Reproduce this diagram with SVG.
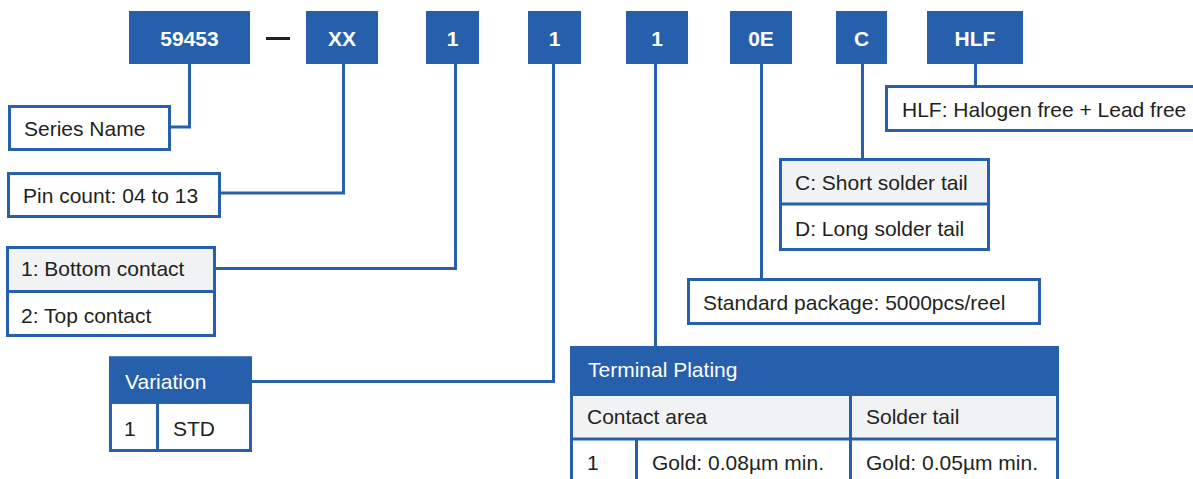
<svg xmlns="http://www.w3.org/2000/svg" width="1193" height="479" viewBox="0 0 1193 479">
<style>
.code{fill:#265FAC}
.codet{font-family:"Liberation Sans",Arial,sans-serif;font-weight:bold;font-size:21px;fill:#ffffff;text-anchor:middle}
.box{fill:#ffffff;stroke:#265FAC;stroke-width:3}
.grey{fill:#F1F2F4}
.blue{fill:#265FAC}
.ln{stroke:#265FAC;stroke-width:3;fill:none}
.t{font-family:"Liberation Sans",Arial,sans-serif;font-size:21px;fill:#231F20}
.tw{font-family:"Liberation Sans",Arial,sans-serif;font-size:21px;fill:#ffffff}
</style>
<rect width="1193" height="479" fill="#ffffff"/>

<g id="connectors">
<polyline class="ln" points="189.5,64 189.5,127 171,127"/>
<polyline class="ln" points="343.5,64 343.5,193 221,193"/>
<polyline class="ln" points="455.5,64 455.5,268.5 216,268.5"/>
<polyline class="ln" points="553.5,64 553.5,381.5 252,381.5"/>
<line class="ln" x1="655.5" y1="64" x2="655.5" y2="346"/>
<line class="ln" x1="761.5" y1="64" x2="761.5" y2="278"/>
<line class="ln" x1="862.5" y1="64" x2="862.5" y2="158"/>
<line class="ln" x1="975.5" y1="64" x2="975.5" y2="85"/>
</g>

<g id="code-59453"><rect class="code" x="129" y="11" width="121" height="53"/><text class="codet" x="189.5" y="46">59453</text></g>
<g id="dash"><line x1="266" y1="38.5" x2="290" y2="38.5" stroke="#231F20" stroke-width="3"/></g>
<g id="code-xx"><rect class="code" x="306" y="11" width="72" height="53"/><text class="codet" x="342" y="46">XX</text></g>
<g id="code-1a"><rect class="code" x="426" y="11" width="53" height="53"/><text class="codet" x="452.5" y="46">1</text></g>
<g id="code-1b"><rect class="code" x="528" y="11" width="53" height="53"/><text class="codet" x="554.5" y="46">1</text></g>
<g id="code-1c"><rect class="code" x="626" y="11" width="62" height="53"/><text class="codet" x="657" y="46">1</text></g>
<g id="code-0e"><rect class="code" x="730" y="11" width="62" height="53"/><text class="codet" x="761" y="46">0E</text></g>
<g id="code-c"><rect class="code" x="836" y="11" width="51" height="53"/><text class="codet" x="861.5" y="46">C</text></g>
<g id="code-hlf"><rect class="code" x="927" y="11" width="96" height="53"/><text class="codet" x="975" y="46">HLF</text></g>

<g id="series-name"><rect class="box" x="9.5" y="106.5" width="160" height="43"/><text class="t" x="24" y="135.5">Series Name</text></g>
<g id="pin-count"><rect class="box" x="8.5" y="173.5" width="211" height="43"/><text class="t" x="23" y="202.5">Pin count: 04 to 13</text></g>
<g id="contact">
<rect class="box" x="7.5" y="247.5" width="207" height="88"/>
<rect class="grey" x="9" y="249" width="204" height="41.5"/>
<line class="ln" x1="7.5" y1="291.5" x2="214.5" y2="291.5"/>
<text class="t" x="21" y="276">1: Bottom contact</text>
<text class="t" x="21" y="322.5">2: Top contact</text>
</g>
<g id="variation">
<rect class="box" x="110.5" y="358" width="140" height="92.5"/>
<rect class="blue" x="109" y="356.5" width="143" height="47.5"/>
<line class="ln" x1="157.5" y1="404" x2="157.5" y2="451"/>
<text class="tw" x="125" y="389">Variation</text>
<text class="t" x="124" y="436">1</text>
<text class="t" x="173" y="436">STD</text>
</g>
<g id="hlf-desc"><rect class="box" x="886.5" y="86.5" width="320" height="44"/><text class="t" x="902" y="117">HLF: Halogen free + Lead free</text></g>
<g id="solder-tail">
<rect class="box" x="780.5" y="159.5" width="208" height="90"/>
<rect class="grey" x="782" y="161" width="205" height="42"/>
<line class="ln" x1="780.5" y1="204" x2="988.5" y2="204"/>
<text class="t" x="795" y="190">C: Short solder tail</text>
<text class="t" x="795" y="236">D: Long solder tail</text>
</g>
<g id="package"><rect class="box" x="688.5" y="279.5" width="351" height="44"/><text class="t" x="703" y="310">Standard package: 5000pcs/reel</text></g>
<g id="plating">
<rect class="box" x="571.5" y="347.5" width="486" height="150"/>
<rect class="blue" x="570" y="346" width="489" height="48"/>
<rect class="grey" x="573" y="395.5" width="483" height="42"/>
<line class="ln" x1="571.5" y1="394.5" x2="1057.5" y2="394.5"/>
<line class="ln" x1="571.5" y1="439" x2="1057.5" y2="439"/>
<line class="ln" x1="850.5" y1="394.5" x2="850.5" y2="479"/>
<line class="ln" x1="636.5" y1="439" x2="636.5" y2="479"/>
<text class="tw" x="588" y="377">Terminal Plating</text>
<text class="t" x="587" y="424">Contact area</text>
<text class="t" x="866" y="424">Solder tail</text>
<text class="t" x="587" y="470">1</text>
<text class="t" x="652" y="470">Gold: 0.08µm min.</text>
<text class="t" x="866" y="470">Gold: 0.05µm min.</text>
</g>
</svg>
